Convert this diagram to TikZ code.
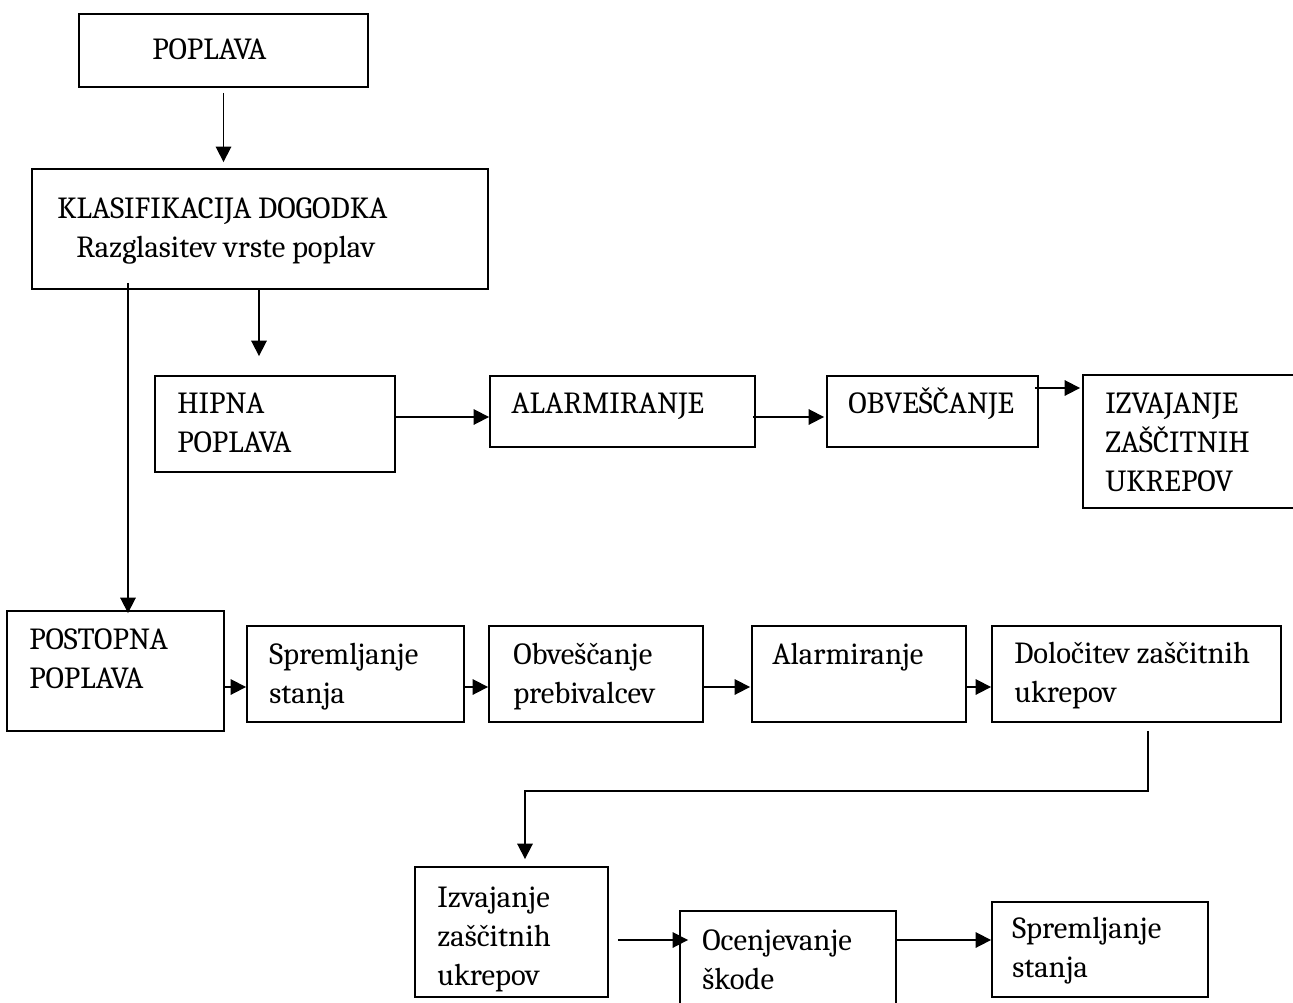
\documentclass[tikz,border=0pt]{standalone}
\usepackage{fontspec}
\IfFontExistsTF{Caladea}{\setmainfont{Caladea}}{\setmainfont{Liberation Serif}}
\usetikzlibrary{arrows.meta,fit,calc}
\newcommand\mlines[1]{\begin{tabular}[t]{@{}l@{}}#1\end{tabular}}
\begin{document}
\begin{tikzpicture}[x=0.75pt,y=-0.75pt,
  box/.style={draw, line width=1.4pt, inner sep=0pt},
  txt/.style={inner sep=0pt, anchor=base west, font=\fontsize{23}{29.25}\selectfont},
  arr/.style={line width=1.3pt, -{Triangle[length=11.5pt,width=11.5pt]}}]
\useasboundingbox (0,0) rectangle (1293,1003);
\fill[white] (0,0) rectangle (1293,1003);
% boxes
\node[box, fit={(79,14)(368,87)}] (poplava) {};
\node[txt] (tpoplava) at (152,60) {POPLAVA};
\node[box, fit={(32,169)(488,289)}] (klas) {};
\node[txt] (tklas) at (57,218) {\mlines{KLASIFIKACIJA DOGODKA\\\hspace{14.25pt}Razglasitev vrste poplav}};
\node[box, fit={(155,376)(395,472)}] (hipna) {};
\node[txt] (thipna) at (177,413) {\mlines{HIPNA\\POPLAVA}};
\node[box, fit={(490,376)(755,447)}] (alarm) {};
\node[txt] (talarm) at (511,413) {ALARMIRANJE};
\node[box, fit={(827,376)(1038,447)}] (obv) {};
\node[txt] (tobv) at (848,413) {OBVEŠČANJE};
\node[box, fit={(1083,375)(1310,508)}] (izvU) {};
\node[txt] (tizvU) at (1105,413) {\mlines{IZVAJANJE\\ZAŠČITNIH\\UKREPOV}};
\node[box, fit={(7,611)(224,731)}] (post) {};
\node[txt] (tpost) at (29,649) {\mlines{POSTOPNA\\POPLAVA}};
\node[box, fit={(247,626)(464,722)}] (sprem) {};
\node[txt] (tsprem) at (269,664) {\mlines{Spremljanje\\stanja}};
\node[box, fit={(489,626)(703,722)}] (obvp) {};
\node[txt] (tobvp) at (513,664) {\mlines{Obveščanje\\prebivalcev}};
\node[box, fit={(752,626)(966,722)}] (alarmp) {};
\node[txt] (talarmp) at (772,664) {Alarmiranje};
\node[box, fit={(992,626)(1281,722)}] (dol) {};
\node[txt] (tdol) at (1014,663) {\mlines{Določitev zaščitnih\\ukrepov}};
\node[box, fit={(415,867)(608,997)}] (izv) {};
\node[txt] (tizv) at (437,907) {\mlines{Izvajanje\\zaščitnih\\ukrepov}};
\node[box, fit={(680,911)(896,1020)}] (ocen) {};
\node[txt] (tocen) at (702,950) {\mlines{Ocenjevanje\\škode}};
\node[box, fit={(992,902)(1208,997)}] (sprem2) {};
\node[txt] (tsprem2) at (1012,938) {\mlines{Spremljanje\\stanja}};
% connectors
\draw[arr] ($(poplava.south)+(0,5)$) -- ($(poplava.south |- klas.north)+(0,-6)$);
\draw[arr] ($(klas.south)+(-132,-7)$) -- ($(post.north)+(12.5,3)$);
\draw[arr] ($(klas.south)+(-1,0)$) -- ($(klas.south |- hipna.north)+(-1,-19)$);
\draw[arr] ($(hipna.east)+(0,-7)$) -- ($(alarm.west)+(0,5.5)$);
\draw[arr] ($(alarm.east)+(-3,5.5)$) -- ($(obv.west)+(-2,5.5)$);
\draw[arr] ($(obv.east)+(-4,-23.5)$) -- ($(izvU.west)+(-2,-53.5)$);
\draw[arr] ($(post.east)+(0,16)$) -- ($(sprem.west)+(0,13)$);
\draw[arr] ($(sprem.east)+(0,13)$) -- ($(obvp.west)+(0,13)$);
\draw[arr] ($(obvp.east)+(0,13)$) -- ($(alarmp.west)+(-1,13)$);
\draw[arr] ($(alarmp.east)+(0,13)$) -- ($(dol.west)+(0,13)$);
\draw[arr] ($(dol.south)+(11.5,8)$) |- ($(izv.north)+(13.5,-75)$) -- ($(izv.north)+(13.5,-7)$);
\draw[arr] ($(izv.east)+(9,8)$) -- ($(ocen.west)+(9,-25.5)$);
\draw[arr] ($(ocen.east)+(0,-25.5)$) -- ($(sprem2.west)+(0,-9.5)$);
\end{tikzpicture}
\end{document}
